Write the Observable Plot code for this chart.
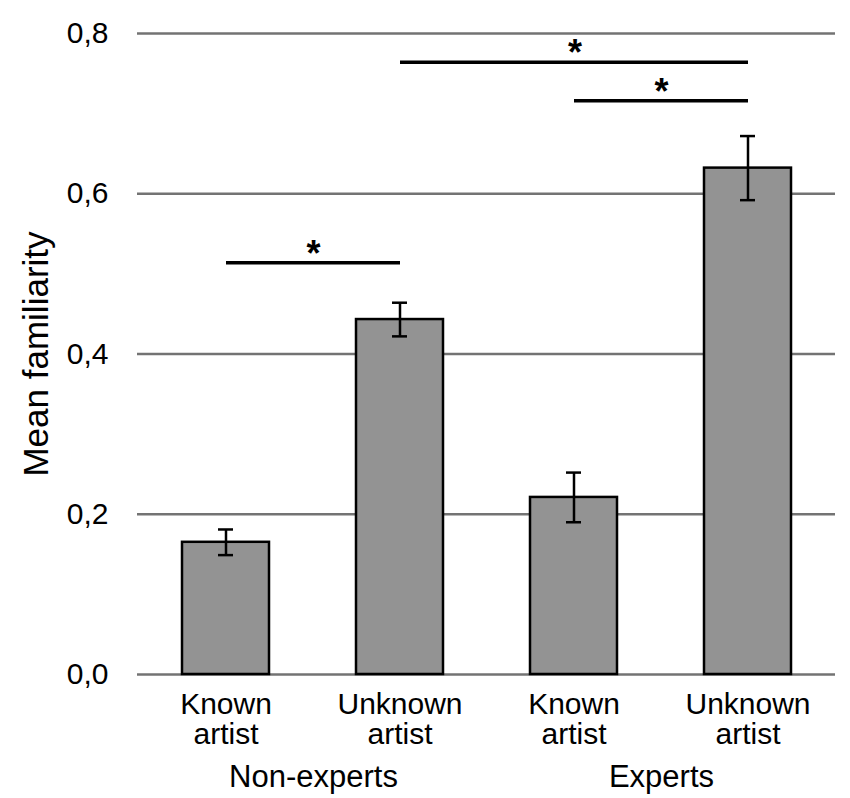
<!DOCTYPE html>
<html>
<head>
<meta charset="utf-8">
<script src="https://cdn.jsdelivr.net/npm/d3@7"></script>
<script src="https://cdn.jsdelivr.net/npm/@observablehq/plot@0.6"></script>
<style>
  html, body { margin: 0; padding: 0; background: #fff; }
  #chart svg { display: block; }
</style>
</head>
<body>
<div id="chart"></div>
<script>
// ---- data ----
const groups = ["Non-experts", "Non-experts", "Experts", "Experts"];
const conditions = ["Known artist", "Unknown artist", "Known artist", "Unknown artist"];
const means = [0.165, 0.443, 0.221, 0.632];
const sems = [0.016, 0.021, 0.031, 0.040];
const yTicks = [0, 0.2, 0.4, 0.6, 0.8];
const groupNames = ["Non-experts", "Experts"];
// significance brackets: index of left bar, index of right bar, height
const sigFrom = [0, 1, 2];
const sigTo = [1, 3, 3];
const sigY = [0.514, 0.764, 0.716];

const keys = groups.map((g, i) => g + "|" + conditions[i]);
const data = keys.map((k, i) => ({key: k, group: groups[i], cond: conditions[i], mean: means[i], lo: means[i] - sems[i], hi: means[i] + sems[i]}));
const sig = sigFrom.map((f, i) => ({x1: keys[f], x2: keys[sigTo[i]], y: sigY[i], span: sigTo[i] - f}));

const W = 850, H = 798, mL = 137, mR = 15, mT = 33, mB = 124;
const pInner = 0.5, pOuter = 0.245;
const step = (W - mL - mR) / (keys.length - pInner + 2 * pOuter);

const font = "'Liberation Sans', Arial, sans-serif";

const chart = Plot.plot({
  width: W,
  height: H,
  marginLeft: mL,
  marginRight: mR,
  marginTop: mT,
  marginBottom: mB,
  style: {fontFamily: font, background: "#fff", color: "#000"},
  x: {domain: keys, paddingInner: pInner, paddingOuter: pOuter, axis: null},
  y: {domain: [0, 0.8], axis: null},
  marks: [
    Plot.ruleY(yTicks, {stroke: "#737373", strokeWidth: 2.5}),
    Plot.axisY(yTicks, {
      tickSize: 0, tickPadding: 29, fontSize: 30,
      tickFormat: d => d3.format(".1f")(d).replace(".", ","),
      label: null
    }),
    Plot.text(["Mean familiarity"], {
      frameAnchor: "left", textAnchor: "middle", rotate: -90, dx: -101, fontSize: 35, lineAnchor: "middle"
    }),
    Plot.barY(data, {x: "key", y: "mean", fill: "#939393", stroke: "#000", strokeWidth: 2.5}),
    Plot.ruleX(data, {x: "key", y1: "lo", y2: "hi", stroke: "#000", strokeWidth: 2.5}),
    Plot.tickY(data, {x: "key", y: "lo", stroke: "#000", strokeWidth: 2.5, insetLeft: 36, insetRight: 36}),
    Plot.tickY(data, {x: "key", y: "hi", stroke: "#000", strokeWidth: 2.5, insetLeft: 36, insetRight: 36}),
    Plot.link(sig, {x1: "x1", x2: "x2", y1: "y", y2: "y", stroke: "#000", strokeWidth: 3.5}),
    // stars centred between the two bar centres of each bracket
    ...sig.map(s => Plot.text([s], {
      x: "x1", y: "y", dx: s.span * step / 2, dy: 3,
      text: () => "*", fontSize: 36, fontWeight: "bold", lineAnchor: "bottom"
    })),
    Plot.axisX(keys, {
      tickSize: 0, tickPadding: 18, fontSize: 30, lineHeight: 1.0,
      tickFormat: k => k.split("|")[1].replace(" ", "\n"),
      label: null
    }),
    Plot.text(groupNames, {
      x: g => keys[groups.indexOf(g)], frameAnchor: "bottom", dx: step / 2, dy: 90,
      lineAnchor: "top", fontSize: 31
    })
  ]
});
document.getElementById("chart").appendChild(chart);
</script>
</body>
</html>
